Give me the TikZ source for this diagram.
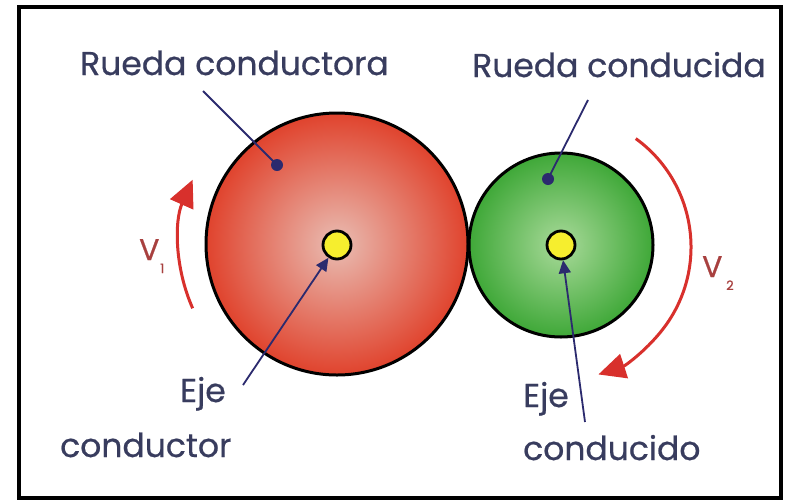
\documentclass[tikz,border=0pt]{standalone}
\usepackage{fontspec}
\setmainfont{Poppins}[FakeBold=0.6,BoldFont=Poppins]
\usetikzlibrary{arrows.meta}

\definecolor{inkblue}{HTML}{383C5E}
\definecolor{wheelred}{HTML}{E0432D}
\definecolor{wheelredin}{HTML}{E9BDB3}
\definecolor{wheelgreen}{HTML}{3FA838}
\definecolor{wheelgreenin}{HTML}{A9DA9A}
\definecolor{axleyellow}{HTML}{F6EE2E}
\definecolor{arcred}{HTML}{D8302C}
\definecolor{vtext}{HTML}{A8403F}
\definecolor{leader}{HTML}{2B2A6E}

\begin{document}
\begin{tikzpicture}[x=1pt,y=-1pt,
  caption/.style={font=\fontsize{33}{36}\selectfont\bfseries, text=inkblue, inner sep=0pt, anchor=base west},
  wheel/.style={circle, draw=black, line width=3pt, inner sep=0pt},
  axle/.style={circle, draw=black, line width=2.8pt, fill=axleyellow, minimum size=28pt, inner sep=0pt},
  marker/.style={circle, fill=leader, minimum size=12pt, inner sep=0pt},
  leaderline/.style={draw=leader, line width=1.8pt},
  pointer/.style={leaderline, -{Triangle[length=13pt,width=12pt]}},
  spin/.style={draw=arcred, line width=3pt, -{Triangle[length=27pt,width=25pt]}},
  vname/.style={font=\fontsize{30}{32}\selectfont\bfseries, text=vtext, inner sep=0pt, anchor=base west},
  vsub/.style={font=\fontsize{13}{14}\selectfont\bfseries, text=vtext, inner sep=0pt, anchor=base west}
]
\useasboundingbox (0,0) rectangle (787,501);
\fill[white] (0,0) rectangle (787,501);

% frame
\draw[line width=4pt] (19,7) rectangle (781,498);

% wheels
\node[wheel, minimum size=262pt, inner color=wheelredin, outer color=wheelred] (drive) at (337,244) {};
\node[wheel, minimum size=184pt, inner color=wheelgreenin, outer color=wheelgreen] (driven) at (561,245) {};

% axles
\node[axle] (axdrive) at (337,245) {};
\node[axle] (axdriven) at (561,245) {};

% markers on the wheels
\node[marker] (mdrive) at (277,165) {};
\node[marker] (mdriven) at (548,179) {};

% captions
\node[caption] (tdrive) at (80,75) {Rueda conductora};
\node[caption] (tdriven) at (472,77) {Rueda conducida};
\node[caption] (edrive) at (180,402) {Eje};
\node[caption] (cdrive) at (60,457) {conductor};
\node[caption] (edriven) at (523,407) {Eje};
\node[caption] (cdriven) at (523,460) {conducido};

% leader lines
\coordinate (ldrive) at (203,91);
\coordinate (ldriven) at (588,100);
\coordinate (pdrive) at (243,385);
\coordinate (pdriven) at (585,422);
\draw[leaderline] (ldrive) -- (mdrive.center);
\draw[leaderline] (ldriven) -- (mdriven.center);
\draw[pointer] (pdrive) -- (axdrive);
\draw[pointer] (pdriven) -- (axdriven);

% rotation arrows
\draw[spin] ([shift={(156:158)}]drive.center) arc[start angle=156, end angle=204, radius=158];
\draw[spin] ([shift={(-54:134)}]557,247) arc[start angle=-54, end angle=72, radius=134];

% speed labels
\node[vname] (v1) at (139,260) {V};
\node[vsub] (v1s) at (160,273) {1};
\node[vname] (v2) at (702,277) {V};
\node[vsub] (v2s) at (726,290) {2};
\end{tikzpicture}
\end{document}
